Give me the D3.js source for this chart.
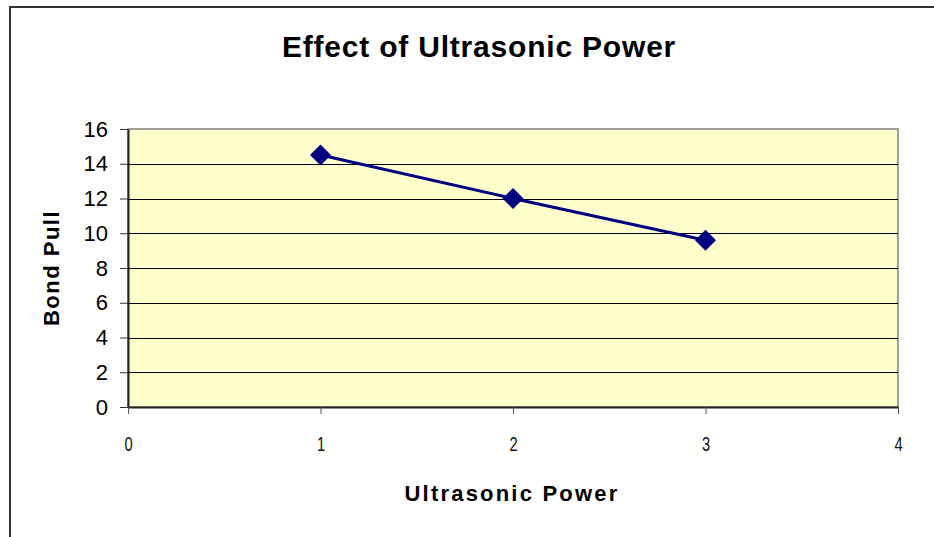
<!DOCTYPE html>
<html><head><meta charset="utf-8">
<script src="https://cdn.jsdelivr.net/npm/d3@7"></script>
<style>body{margin:0;background:#fff;} svg{display:block;}</style>
</head><body>
<svg id="c" width="934" height="537"></svg>
<script>
const xValues = [1, 2, 3];
const bondPull = [14.5, 12.0, 9.6];
const xTicks = [0, 1, 2, 3, 4];
const yTicks = [0, 2, 4, 6, 8, 10, 12, 14, 16];
const title = "Effect of Ultrasonic Power";
const xTitle = "Ultrasonic Power";
const yTitle = "Bond Pull";

const svg = d3.select("#c");
const L = 128, R = 898, T = 129, B = 407;
const x = d3.scaleLinear().domain([0, 4]).range([L, R]);
const y = d3.scaleLinear().domain([0, 16]).range([B, T]);
const font = "Arial, 'Liberation Sans', sans-serif";

// outer border
svg.append("path").attr("d", "M10,540 L10,7 L940,7").attr("fill", "none")
  .attr("stroke", "#333").attr("stroke-width", 2);

// plot area
svg.append("rect").attr("x", L).attr("y", T).attr("width", R - L).attr("height", B - T)
  .attr("fill", "#FFFFCC").attr("stroke", "#808080").attr("stroke-width", 1.5);

// gridlines
svg.append("g").selectAll("line").data(yTicks.filter(d => d > 0 && d < 16)).join("line")
  .attr("x1", L).attr("x2", R).attr("y1", d => Math.round(y(d)) + 0.5).attr("y2", d => Math.round(y(d)) + 0.5)
  .attr("stroke", "#000").attr("stroke-width", 1);

// y axis
const ya = svg.append("g").attr("transform", `translate(${L},0)`)
  .call(d3.axisLeft(y).tickValues(yTicks).tickSize(8).tickPadding(12).tickSizeOuter(0));
ya.select(".domain").attr("stroke", "#222").attr("stroke-width", 2);
ya.selectAll(".tick line").attr("stroke", "#333");
ya.selectAll(".tick text").attr("font-family", font)
  .attr("font-size", 22).attr("fill", "#000");

// x axis
const xa = svg.append("g").attr("transform", `translate(0,${B})`)
  .call(d3.axisBottom(x).tickValues(xTicks).tickSize(7).tickPadding(22).tickSizeOuter(0).tickFormat(d3.format("d")));
xa.select(".domain").attr("stroke", "#222").attr("stroke-width", 2);
xa.selectAll(".tick line").attr("stroke", "#555");
xa.selectAll(".tick text").attr("font-family", font)
  .attr("font-size", 21).attr("fill", "#111").attr("transform", "scale(0.7,1)");

// series line
svg.append("path").datum(xValues.map((v, i) => [v, bondPull[i]]))
  .attr("d", d3.line().x(d => x(d[0])).y(d => y(d[1])))
  .attr("fill", "none").attr("stroke", "#000080").attr("stroke-width", 3);

// markers
svg.append("g").selectAll("path").data(xValues.map((v, i) => [v, bondPull[i]])).join("path")
  .attr("transform", d => `translate(${x(d[0])},${y(d[1])})`)
  .attr("d", "M0,-10.5 L10.5,0 L0,10.5 L-10.5,0 Z").attr("fill", "#000080");

// titles
svg.append("text").attr("x", 479).attr("y", 57).attr("text-anchor", "middle")
  .attr("font-family", font).attr("font-weight", "bold").attr("font-size", 30)
  .attr("letter-spacing", 0.8).text(title);
svg.append("text").attr("x", 512).attr("y", 501).attr("text-anchor", "middle")
  .attr("font-family", font).attr("font-weight", "bold").attr("font-size", 22)
  .attr("letter-spacing", 2.2).text(xTitle);
svg.append("text").attr("transform", "translate(59,268) rotate(-90)").attr("text-anchor", "middle")
  .attr("font-family", font).attr("font-weight", "bold").attr("font-size", 22)
  .attr("letter-spacing", 1.5).text(yTitle);
</script>
</body></html>
